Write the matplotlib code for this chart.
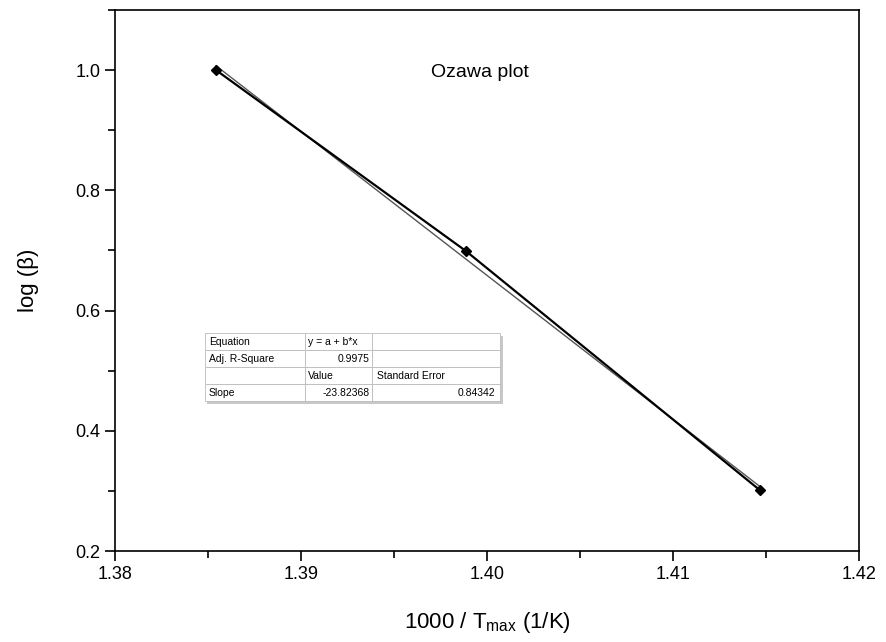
import numpy as np
import matplotlib.pyplot as plt
from matplotlib.ticker import MultipleLocator
from matplotlib.patches import Rectangle

plt.rcParams['font.family'] = ['Liberation Sans', 'DejaVu Sans']

# data: inverse peak temperature vs log heating rate
inv_tmax = [1.38543, 1.39887, 1.41468]
log_beta = [1.0, 0.69897, 0.30103]

# fit statistics as reported
table_rows = [
    ["Equation", "y = a + b*x", ""],
    ["Adj. R-Square", "0.9975", ""],
    ["", "Value", "Standard Error"],
    ["Slope", "-23.82368", "0.84342"],
]

x = np.array(inv_tmax)
y = np.array(log_beta)
b, a = np.polyfit(x, y, 1)

fig = plt.figure(figsize=(8.87, 6.42), dpi=100)
ax = fig.add_axes([0.1297, 0.1417, 0.8387, 0.8427])

# fitted line (thin, grey)
ax.plot(x, a + b * x, color='#555555', lw=1.0, zorder=2)
# data line with markers
ax.plot(x, y, color='black', lw=1.6, marker='D', ms=5, zorder=3)

ax.set_xlim(1.38, 1.42)
ax.set_ylim(0.2, 1.1)
ax.xaxis.set_major_locator(MultipleLocator(0.01))
ax.xaxis.set_minor_locator(MultipleLocator(0.005))
ax.yaxis.set_major_locator(MultipleLocator(0.2))
ax.yaxis.set_minor_locator(MultipleLocator(0.1))
ax.tick_params(which='both', direction='out', top=False, right=False, width=1.2, labelsize=13)
ax.tick_params(which='major', length=7)
ax.tick_params(which='minor', length=5)
ax.xaxis.set_major_formatter(plt.FormatStrFormatter('%.2f'))
ax.yaxis.set_major_formatter(plt.FormatStrFormatter('%.1f'))
for s in ax.spines.values():
    s.set_linewidth(1.2)

ax.set_xlabel(r"1000 / T$_{\mathregular{max}}$ (1/K)", fontsize=16, labelpad=20)
ax.set_ylabel("log (β)", fontsize=16, labelpad=26)
ax.text(0.49, 0.885, "Ozawa plot", transform=ax.transAxes, ha='center', va='center', fontsize=14)

tb = [0.121, 0.277, 0.397, 0.126]
# drop shadow behind the table
ax.add_patch(Rectangle((tb[0] + 0.003, tb[1] - 0.005), tb[2], tb[3], transform=ax.transAxes,
                       facecolor='#c8c8c8', edgecolor='none', zorder=4))
tbl = ax.table(cellText=table_rows, cellLoc='left', colWidths=[100, 67, 128], bbox=tb)
tbl.set_zorder(5)
tbl.auto_set_font_size(False)
tbl.set_fontsize(7.5)
for (r, c), cell in tbl.get_celld().items():
    cell.set_edgecolor('#bbbbbb')
    cell.set_linewidth(0.6)
    cell.set_facecolor('white')
    cell.PAD = 0.04
    if (c == 1 and r in (1, 3)) or (c == 2 and r == 3):
        cell._loc = 'right'
        cell.get_text().set_horizontalalignment('right')

fig.savefig("out.png", dpi=100)
